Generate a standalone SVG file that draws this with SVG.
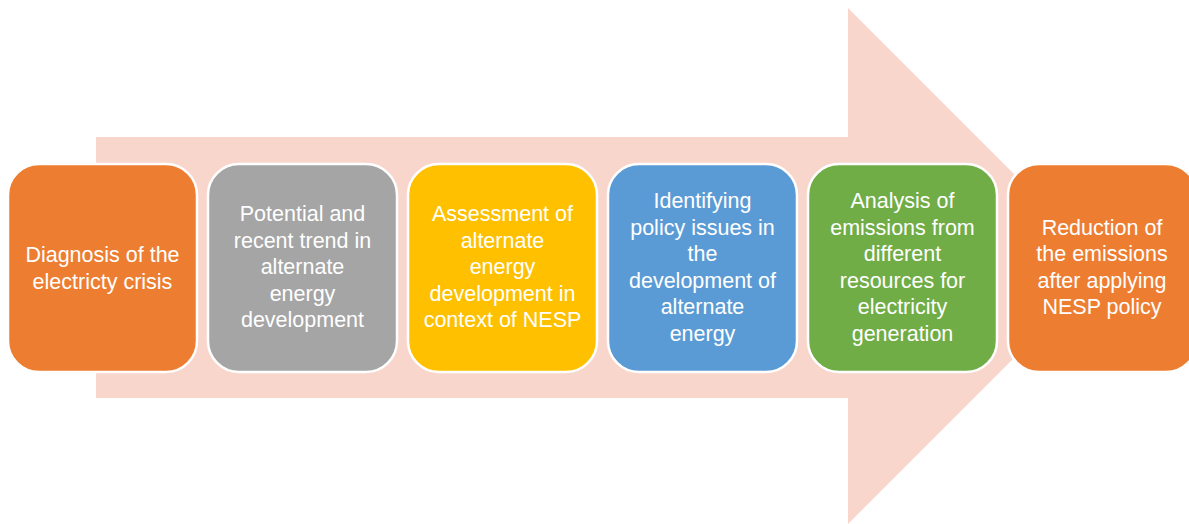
<svg xmlns="http://www.w3.org/2000/svg" width="1189" height="524" viewBox="0 0 1189 524">
<style>
.box{stroke:#fff;stroke-width:2.5}
.t{font-family:"Liberation Sans",Arial,sans-serif;font-size:21.5px;fill:#fff;text-anchor:middle}
</style>
<rect width="1189" height="524" fill="#fff"/>
<g id="arrow">
<polygon points="96,137 848,137 848,8 1106,266 848,524 848,398 96,398" fill="#F8D6CB"/>
</g>
<g id="connectors"></g>
<g id="n1">
<rect class="box" x="8" y="164" width="189" height="208" rx="31" fill="#ED7D31"/>
<text class="t"><tspan x="102.5" y="262">Diagnosis of the</tspan><tspan x="102.5" y="289">electricty crisis</tspan></text>
</g>
<g id="n2">
<rect class="box" x="208" y="164" width="189" height="208" rx="31" fill="#A5A5A5"/>
<text class="t"><tspan x="302.5" y="221">Potential and</tspan><tspan x="302.5" y="248">recent trend in</tspan><tspan x="302.5" y="274">alternate</tspan><tspan x="302.5" y="301">energy</tspan><tspan x="302.5" y="327">development</tspan></text>
</g>
<g id="n3">
<rect class="box" x="408" y="164" width="189" height="208" rx="31" fill="#FFC000"/>
<text class="t"><tspan x="502.5" y="221">Assessment of</tspan><tspan x="502.5" y="248">alternate</tspan><tspan x="502.5" y="274">energy</tspan><tspan x="502.5" y="301">development in</tspan><tspan x="502.5" y="327">context of NESP</tspan></text>
</g>
<g id="n4">
<rect class="box" x="608" y="164" width="189" height="208" rx="31" fill="#5B9BD5"/>
<text class="t"><tspan x="702.5" y="208">Identifying</tspan><tspan x="702.5" y="235">policy issues in</tspan><tspan x="702.5" y="261">the</tspan><tspan x="702.5" y="288">development of</tspan><tspan x="702.5" y="314">alternate</tspan><tspan x="702.5" y="341">energy</tspan></text>
</g>
<g id="n5">
<rect class="box" x="808" y="164" width="189" height="208" rx="31" fill="#70AD47"/>
<text class="t"><tspan x="902.5" y="208">Analysis of</tspan><tspan x="902.5" y="235">emissions from</tspan><tspan x="902.5" y="261">different</tspan><tspan x="902.5" y="288">resources for</tspan><tspan x="902.5" y="314">electricity</tspan><tspan x="902.5" y="341">generation</tspan></text>
</g>
<g id="n6">
<rect class="box" x="1008" y="164" width="189" height="208" rx="31" fill="#ED7D31"/>
<text class="t"><tspan x="1102" y="235">Reduction of</tspan><tspan x="1102" y="261">the emissions</tspan><tspan x="1102" y="288">after applying</tspan><tspan x="1102" y="314">NESP policy</tspan></text>
</g>
</svg>
